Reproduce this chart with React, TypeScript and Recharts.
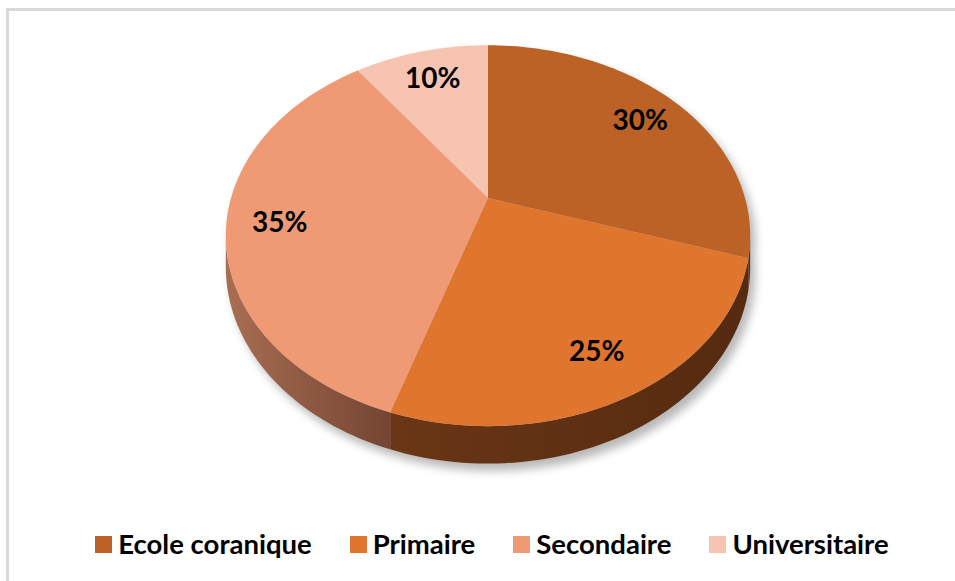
import React from 'react';
import { PieChart, Pie, Cell, Legend } from 'recharts';

const categories = ['Ecole coranique', 'Primaire', 'Secondaire', 'Universitaire'];
const shares = [30, 25, 35, 10];
const topColors = ['#BD6226', '#E0752E', '#F09A75', '#F6C4B1'];
const wallLight = ['#6e3a18', '#6a3616', '#a86e52', '#b58d7c'];
const wallDark = ['#5a2d12', '#552a10', '#744533', '#8c6b5e'];

const data = categories.map((name, i) => ({ name, value: shares[i] }));

// fake 3D: tilt + perspective of the pie disc
const TILT = 0.712;
const PERSP = 0.198;
const DEPTH = 30;
const RAD = Math.PI / 180;
const PHI_R = Math.acos(-PERSP) / RAD;
const PHI_L = 360 - PHI_R;

const project = (cx: number, cy: number, R: number, r: number, phi: number) => {
  const c = Math.cos(phi * RAD);
  const s = Math.sin(phi * RAD);
  const w = 1 / (1 + PERSP * r * c);
  return { x: cx + R * r * s * w, y: cy - R * TILT * r * c * w, w };
};

const rim = (cx: number, cy: number, R: number, p0: number, p1: number, drop = 0) => {
  const n = Math.max(2, Math.ceil(Math.abs(p1 - p0) / 1.5));
  const pts: string[] = [];
  for (let i = 0; i <= n; i++) {
    const pt = project(cx, cy, R, 1, p0 + ((p1 - p0) * i) / n);
    pts.push(`${pt.x.toFixed(2)},${(pt.y + drop * DEPTH * pt.w).toFixed(2)}`);
  }
  return pts;
};

const sectorPath = (cx: number, cy: number, R: number, p0: number, p1: number, drop = 0) =>
  `M${cx},${cy + drop * DEPTH} L${rim(cx, cy, R, p0, p1, drop).join(' L')} Z`;

const wallPath = (cx: number, cy: number, R: number, p0: number, p1: number) => {
  const top = rim(cx, cy, R, p0, p1, 0);
  const bottom = rim(cx, cy, R, p1, p0, 1);
  return `M${top.join(' L')} L${bottom.join(' L')} Z`;
};

const angles = (props: any) => [90 - props.startAngle, 90 - props.endAngle];

const ShadowShape = (props: any) => {
  const { cx, cy, outerRadius } = props;
  const [p0, p1] = angles(props);
  return (
    <g transform="translate(5,7)">
      <path d={sectorPath(cx, cy, outerRadius, p0, p1)} fill="#000" />
      <path d={sectorPath(cx, cy, outerRadius, p0, p1, 1)} fill="#000" />
      <path d={wallPath(cx, cy, outerRadius, p0, p1)} fill="#000" />
    </g>
  );
};

const WallShape = (props: any) => {
  const { cx, cy, outerRadius, index } = props;
  const [p0, p1] = angles(props);
  const a = Math.max(p0, PHI_R);
  const b = Math.min(p1, PHI_L);
  if (b <= a) return <g />;
  const id = `wall-grad-${index}`;
  return (
    <g>
      <defs>
        <linearGradient id={id} x1="1" y1="0" x2="0" y2="0">
          <stop offset="0%" stopColor={wallDark[index]} />
          <stop offset="100%" stopColor={wallLight[index]} />
        </linearGradient>
      </defs>
      <path d={wallPath(cx, cy, outerRadius, a, b)} fill={`url(#${id})`} />
    </g>
  );
};

const TopShape = (props: any) => {
  const { cx, cy, outerRadius, fill } = props;
  const [p0, p1] = angles(props);
  return <path d={sectorPath(cx, cy, outerRadius, p0, p1)} fill={fill} stroke="none" />;
};

const renderLabel = (props: any) => {
  const { cx, cy, outerRadius, midAngle, value } = props;
  const pt = project(cx, cy, outerRadius, 0.8, 90 - midAngle);
  return (
    <text
      x={pt.x}
      y={pt.y}
      textAnchor="middle"
      dominantBaseline="central"
      fontFamily="Lato, 'Open Sans', sans-serif"
      fontWeight={700}
      fontSize={28}
      fill="#000"
    >
      {`${value}%`}
    </text>
  );
};

const renderLegend = () => (
  <div
    style={{
      display: 'flex',
      justifyContent: 'center',
      alignItems: 'center',
      gap: 38,
      paddingLeft: 29,
      fontFamily: "Lato, 'Open Sans', sans-serif",
      fontWeight: 700,
      fontSize: 27.5,
      color: '#000',
    }}
  >
    {categories.map((name, i) => (
      <div key={name} style={{ display: 'flex', alignItems: 'center' }}>
        <span style={{ width: 17, height: 17, background: topColors[i], marginRight: 6, display: 'inline-block' }} />
        <span style={{ lineHeight: '30px' }}>{name}</span>
      </div>
    ))}
  </div>
);

export default function App() {
  return (
    <div style={{ position: 'absolute', left: 0, top: 0, width: 955, height: 581, background: '#fff', overflow: 'hidden' }}>
      <style>{'.pie-shadow { opacity: 0.28; filter: blur(5px); }'}</style>
      <div
        style={{
          position: 'absolute',
          left: 6,
          top: 8,
          width: 980,
          height: 600,
          borderTop: '3px solid #d9d9d9',
          borderLeft: '3px solid #d9d9d9',
        }}
      />
      <div style={{ position: 'absolute', left: 0, top: 0 }}>
        <PieChart width={955} height={581} margin={{ top: 0, right: 0, bottom: 0, left: 0 }}>
          <Pie
            data={data}
            dataKey="value"
            nameKey="name"
            cx={488}
            cy={198}
            outerRadius={257}
            startAngle={90}
            endAngle={-270}
            className="pie-shadow"
            legendType="none"
            shape={ShadowShape}
            isAnimationActive={false}
          />
          <Pie
            data={data}
            dataKey="value"
            nameKey="name"
            cx={488}
            cy={198}
            outerRadius={257}
            startAngle={90}
            endAngle={-270}
            legendType="none"
            shape={WallShape}
            isAnimationActive={false}
          />
          <Pie
            data={data}
            dataKey="value"
            nameKey="name"
            cx={488}
            cy={198}
            outerRadius={257}
            startAngle={90}
            endAngle={-270}
            stroke="none"
            shape={TopShape}
            label={renderLabel}
            labelLine={false}
            isAnimationActive={false}
          >
            {data.map((d, i) => (
              <Cell key={d.name} fill={topColors[i]} />
            ))}
          </Pie>
          <Legend content={renderLegend} wrapperStyle={{ left: 0, top: 529, width: 955 }} />
        </PieChart>
      </div>
    </div>
  );
}
